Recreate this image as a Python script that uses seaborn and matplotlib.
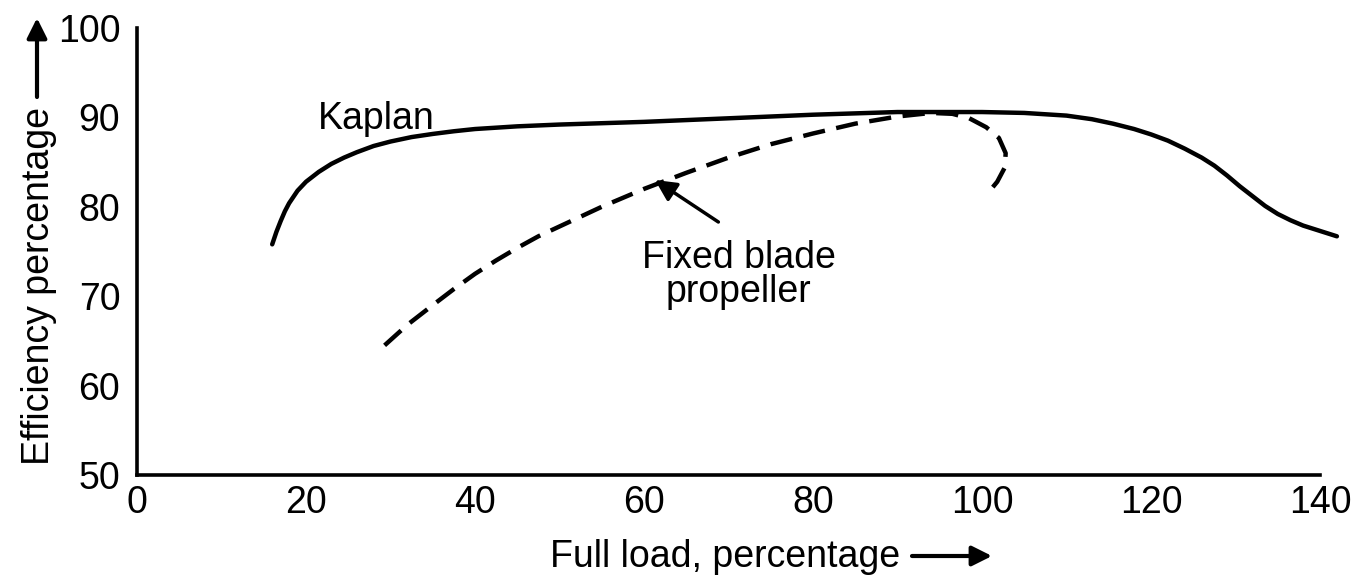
import matplotlib
matplotlib.use("Agg")
import matplotlib.pyplot as plt
import seaborn as sns
import pandas as pd

# ---- data ----
kaplan_load = [16, 16.5, 17, 17.5, 18, 19, 20, 21.5, 23, 24.5, 26, 28, 30, 32.5,
               35, 37.5, 40, 42.5, 45, 50, 60, 70, 80, 90, 100, 105, 110, 113,
               115.5, 118, 120, 122, 124, 126, 127.5, 129, 130.5, 132, 133.5,
               135, 136.5, 138, 140, 142]
kaplan_eff = [75.8, 77.2, 78.4, 79.5, 80.4, 81.8, 82.8, 83.9, 84.8, 85.5, 86.1,
              86.8, 87.3, 87.8, 88.15, 88.45, 88.7, 88.85, 89.0, 89.2, 89.5,
              89.9, 90.3, 90.6, 90.6, 90.5, 90.2, 89.8, 89.3, 88.7, 88.1, 87.4,
              86.5, 85.5, 84.6, 83.5, 82.3, 81.2, 80.1, 79.2, 78.5, 77.9, 77.3,
              76.7]

fixed_load = [29.3, 32, 35, 37.5, 40, 42.5, 45, 47.5, 50, 55, 60, 65, 70, 75,
              80, 85, 90, 94, 96.5, 98.5, 100.5, 102, 102.8, 102.7, 101.8,
              100.5]
fixed_eff = [64.5, 66.8, 69.0, 70.8, 72.5, 74.0, 75.4, 76.7, 77.8, 80.0, 82.0,
             83.8, 85.5, 87.0, 88.2, 89.3, 90.1, 90.5, 90.4, 89.9, 88.9, 87.7,
             86.0, 84.4, 82.8, 81.3]

x_ticks = [0, 20, 40, 60, 80, 100, 120, 140]
y_ticks = [50, 60, 70, 80, 90, 100]

kaplan_df = pd.DataFrame({"load": kaplan_load, "eff": kaplan_eff})
fixed_df = pd.DataFrame({"load": fixed_load, "eff": fixed_eff})

sns.set_theme(style="white")
plt.rcParams["font.family"] = ["Liberation Sans", "DejaVu Sans"]
plt.rcParams["text.color"] = "black"
plt.rcParams["axes.labelcolor"] = "black"

W, H, DPI = 1359, 580, 100
fig = plt.figure(figsize=(W / DPI, H / DPI), dpi=DPI)
ax = fig.add_axes([137 / W, 1 - 475 / H, (1320 - 137) / W, (475 - 28) / H])

sns.lineplot(data=kaplan_df, x="load", y="eff", ax=ax, color="black",
             linewidth=3.2, sort=False, estimator=None)
sns.lineplot(data=fixed_df, x="load", y="eff", ax=ax, color="black",
             linewidth=3.2, sort=False, estimator=None)
ax.lines[1].set_dashes((5, 2.6))
for ln in ax.lines:
    ln.set_clip_on(False)
    ln.set_solid_joinstyle("round")
    ln.set_dash_joinstyle("round")

ax.set_xlim(0, 140)
ax.set_ylim(50, 100)
ax.set_xticks(x_ticks)
ax.set_yticks(y_ticks)
ax.set_xlabel("")
ax.set_ylabel("")
for s in ["top", "right"]:
    ax.spines[s].set_visible(False)
for s in ["left", "bottom"]:
    ax.spines[s].set_color("black")
    ax.spines[s].set_linewidth(2.6)
ax.tick_params(axis="both", direction="in", length=11, width=2.2,
               colors="black", labelsize=27)
ax.tick_params(axis="y", pad=12)
ax.tick_params(axis="x", pad=7)
ax.grid(False)

# annotations
ax.text(21.4, 88.7, "Kaplan", fontsize=27, ha="left", va="baseline",
        color="black")
ax.text(71.2, 73.2, "Fixed blade", fontsize=27, ha="center", va="baseline",
        color="black")
ax.text(71.2, 69.3, "propeller", fontsize=27, ha="center", va="baseline",
        color="black")
ax.annotate("", xy=(61.3, 83.0), xytext=(68.8, 78.3),
            arrowprops=dict(arrowstyle="-|>", color="black", lw=2.5,
                            mutation_scale=32, shrinkA=0, shrinkB=0))

# axis titles with arrows (figure pixel coordinates)
fig.text(550 / W, 1 - 567 / H, "Full load, percentage", fontsize=27,
         ha="left", va="baseline", color="black")
fig.add_artist(matplotlib.patches.FancyArrowPatch(
    (912 / W, 1 - 556 / H), (992 / W, 1 - 556 / H), transform=fig.transFigure,
    arrowstyle="-|>", mutation_scale=30, lw=3, color="black",
    shrinkA=0, shrinkB=0))
fig.text(49 / W, 1 - 465 / H, "Efficiency percentage", fontsize=27,
         rotation=90, rotation_mode="anchor", ha="left", va="baseline",
         color="black")
fig.add_artist(matplotlib.patches.FancyArrowPatch(
    (37 / W, 1 - 97 / H), (37 / W, 1 - 18 / H), transform=fig.transFigure,
    arrowstyle="-|>", mutation_scale=30, lw=3, color="black",
    shrinkA=0, shrinkB=0))

fig.savefig("out.png", dpi=DPI)
